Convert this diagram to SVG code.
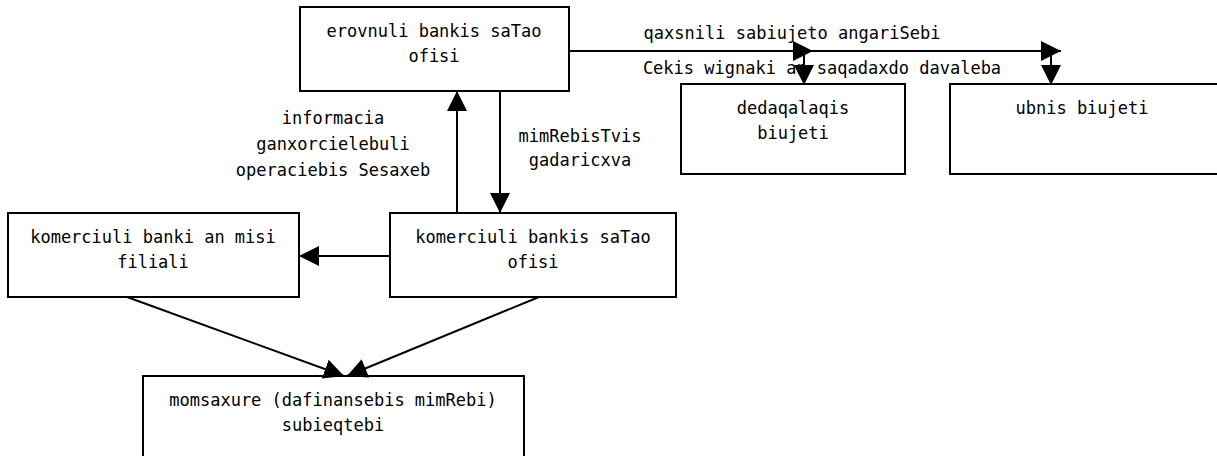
<svg xmlns="http://www.w3.org/2000/svg" width="1217" height="456" viewBox="0 0 1217 456">
<style>
.box{fill:#fff;stroke:#000;stroke-width:2}
.t{font-family:"DejaVu Sans Mono","Liberation Mono",monospace;font-size:17px;fill:#000;text-anchor:middle}
.c{fill:none;stroke:#000;stroke-width:2}
</style>
<defs>
<marker id="ah" markerUnits="userSpaceOnUse" markerWidth="20" markerHeight="20" refX="20" refY="10" orient="auto">
<path d="M0,0 L20,10 L0,20 z" fill="#000"/>
</marker>
</defs>
<rect width="1217" height="456" fill="#fff"/>
<g id="n1">
<rect class="box" x="300" y="7" width="269" height="84"/>
<text class="t" x="434" y="37">erovnuli bankis saTao</text>
<text class="t" x="434" y="62">ofisi</text>
</g>
<g id="n2">
<rect class="box" x="681" y="84" width="224" height="90"/>
<text class="t" x="793" y="114">dedaqalaqis</text>
<text class="t" x="793" y="139">biujeti</text>
</g>
<g id="n3">
<rect class="box" x="950" y="84" width="280" height="90"/>
<text class="t" x="1082" y="114">ubnis biujeti</text>
</g>
<g id="n4">
<rect class="box" x="8" y="213" width="291" height="84"/>
<text class="t" x="153" y="243">komerciuli banki an misi</text>
<text class="t" x="153" y="268">filiali</text>
</g>
<g id="n5">
<rect class="box" x="390" y="213" width="286" height="84"/>
<text class="t" x="533" y="243">komerciuli bankis saTao</text>
<text class="t" x="533" y="268">ofisi</text>
</g>
<g id="n6">
<rect class="box" x="143" y="376" width="381" height="100"/>
<text class="t" x="333" y="406">momsaxure (dafinansebis mimRebi)</text>
<text class="t" x="333" y="431">subieqtebi</text>
</g>
<g id="connectors">
<path class="c" d="M457,213 V91" marker-end="url(#ah)"/>
<path class="c" d="M500,91 V213" marker-end="url(#ah)"/>
<path class="c" d="M390,256 H299" marker-end="url(#ah)"/>
<path class="c" d="M127,297 L344,376" marker-end="url(#ah)"/>
<path class="c" d="M539,297 L347,376" marker-end="url(#ah)"/>
<path class="c" d="M569,51 H1061" marker-end="url(#ah)"/>
<path class="c" d="M569,51 H813" marker-end="url(#ah)"/>
<path class="c" d="M804,51 V85" marker-end="url(#ah)"/>
<path class="c" d="M1051,51 V85" marker-end="url(#ah)"/>
<text class="t" x="792" y="39">qaxsnili sabiujeto angariSebi</text>
<text class="t" x="822" y="74">Cekis wignaki an saqadaxdo davaleba</text>
<text class="t" x="333" y="124">informacia</text>
<text class="t" x="333" y="150">ganxorcielebuli</text>
<text class="t" x="333" y="176">operaciebis Sesaxeb</text>
<text class="t" x="580" y="142">mimRebisTvis</text>
<text class="t" x="580" y="166">gadaricxva</text>
</g>
</svg>
